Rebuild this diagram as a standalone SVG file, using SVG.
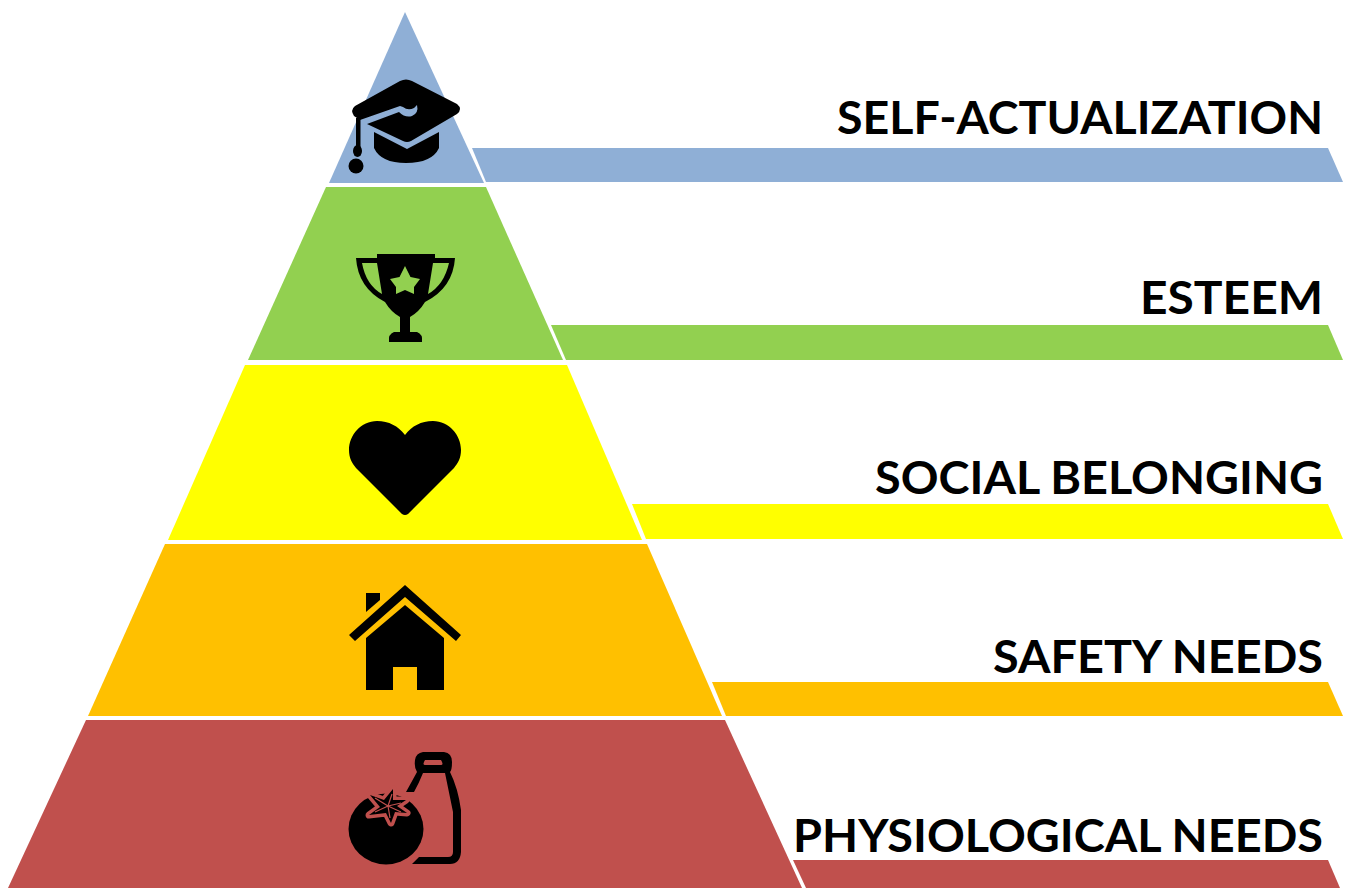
<svg xmlns="http://www.w3.org/2000/svg" width="1346" height="888" viewBox="0 0 1346 888">
<style>
.t{font-family:"Lato","Liberation Sans",sans-serif;font-weight:700;font-size:46px;fill:#000;text-anchor:end}
.i{fill:#000}
.blue{fill:#8FAFD6}.green{fill:#92D050}.yellow{fill:#FFFF00}.orange{fill:#FFC000}.red{fill:#C0504D}
</style>
<defs>
<path id="calyx" d="M393 789 L393 800 L406 800 L397 806 L407 813 L395 812 L391 823 L386 813 L369 815 L380 807 L370 795 L384 800 Z"/>
</defs>
<rect width="1346" height="888" fill="#fff"/>
<g id="self-actualization">
<polygon class="blue" points="405,12 484,183 329,183"/>
<polygon class="blue" points="472,148 1328,148 1343,182 486,182"/>
<text class="t" x="1323" y="134" textLength="486" lengthAdjust="spacingAndGlyphs">SELF-ACTUALIZATION</text>
<g id="icon-cap">
<path class="i" d="M400 81 Q406 78 412 81 L457 104 Q463 109 457 114 L411 141 Q407 143 403 141 L367 124 L399 112 Q405 118 412 116 Q419 113 417 105 L414 108 Q408 111 403 107 L400 106 L360 120 L354 116 Q350 110 355 106 Z"/>
<path class="i" d="M374 132 L407 149 L439 132 V148 Q432 163 406 163 Q381 163 374 148 Z"/>
<rect class="i" x="356" y="118" width="4.500" height="30"/>
<ellipse class="i" cx="357.500" cy="151" rx="4.500" ry="6"/>
<circle class="i" cx="356" cy="166" r="7.500"/>
</g>
</g>
<g id="esteem">
<polygon class="green" points="326,187 486,187 563,360 248,360"/>
<polygon class="green" points="551,325 1328,325 1343,360 566,360"/>
<text class="t" x="1323" y="314" textLength="183" lengthAdjust="spacingAndGlyphs">ESTEEM</text>
<path id="icon-trophy" class="i" fill-rule="evenodd" d="M377 254 H435 V258 H455 Q453 288 425 302 Q419 312 410 317 V332 H417 Q423 334 422 342 H389 Q388 334 394 332 H400 V317 Q391 312 385 302 Q358 288 356 258 H377 Z M362 263 Q366 285 382 294 L377 263 Z M433 263 L428 294 Q444 285 449 263 Z M405 266 L399.500 277 L390 279 L396 287 L396 294 L405 290 L414 294 L414 287 L420 279 L410.500 277 Z"/>
</g>
<g id="social-belonging">
<polygon class="yellow" points="245,365 567,365 642,540 168,540"/>
<polygon class="yellow" points="632,504 1328,504 1343,539 646,539"/>
<text class="t" x="1323" y="494" textLength="448" lengthAdjust="spacingAndGlyphs">SOCIAL BELONGING</text>
<path id="icon-heart" class="i" d="M405 435 C412 426 421 421 433 421 C449 421 461 435 461 450 C461 458 458 463 454 468 L408 514 Q405 516 402 514 L356 468 C352 463 349 458 349 450 C349 435 361 421 377 421 C389 421 398 426 405 435 Z"/>
</g>
<g id="safety-needs">
<polygon class="orange" points="165,544 647,544 722,716 88,716"/>
<polygon class="orange" points="712,682 1328,682 1343,716 726,716"/>
<text class="t" x="1323" y="673" textLength="330" lengthAdjust="spacingAndGlyphs">SAFETY NEEDS</text>
<g id="icon-house">
<path class="i" d="M405 585 L461 635 L456 641 L405 597 L355 641 L349 635 Z"/>
<path class="i" d="M366 593 H380 V600 L366 612 Z"/>
<path class="i" d="M405 605 L444 638 V690 H417 V667 H393 V690 H366 V638 Z"/>
</g>
</g>
<g id="physiological-needs">
<polygon class="red" points="86,720 725,720 802,888 8,888"/>
<polygon class="red" points="793,860 1328,860 1340,888 806,888"/>
<text class="t" x="1323" y="852" textLength="530" lengthAdjust="spacingAndGlyphs">PHYSIOLOGICAL NEEDS</text>
<g id="icon-food">
<path class="i" fill-rule="evenodd" d="M423 752 H444 Q452 753 452 762 Q452 770 450 772 Q458 788 461 810 V852 Q460 864 450 864 H412 L419 857 H448 Q453 857 453 852 V812 L445 773 H423 Q419 783 414 792 H406 L417 772 Q414 768 415 760 Q416 753 423 752 Z M425 760 Q422 765 425 765 H441 Q444 765 441 760 Z"/>
<ellipse class="i" cx="386" cy="829" rx="37.500" ry="35.500"/>
<use href="#calyx" fill="#C0504D" stroke="#C0504D" stroke-width="7" stroke-linejoin="round"/>
<use href="#calyx" fill="#000"/>
<path d="M388 806 L392 794 M388 806 L401 803 M388 806 L401 812 M388 806 L390 818 M388 806 L375 812 M388 806 L375 798" fill="none" stroke="#C0504D" stroke-width="1.200"/>
</g>
</g>
</svg>
